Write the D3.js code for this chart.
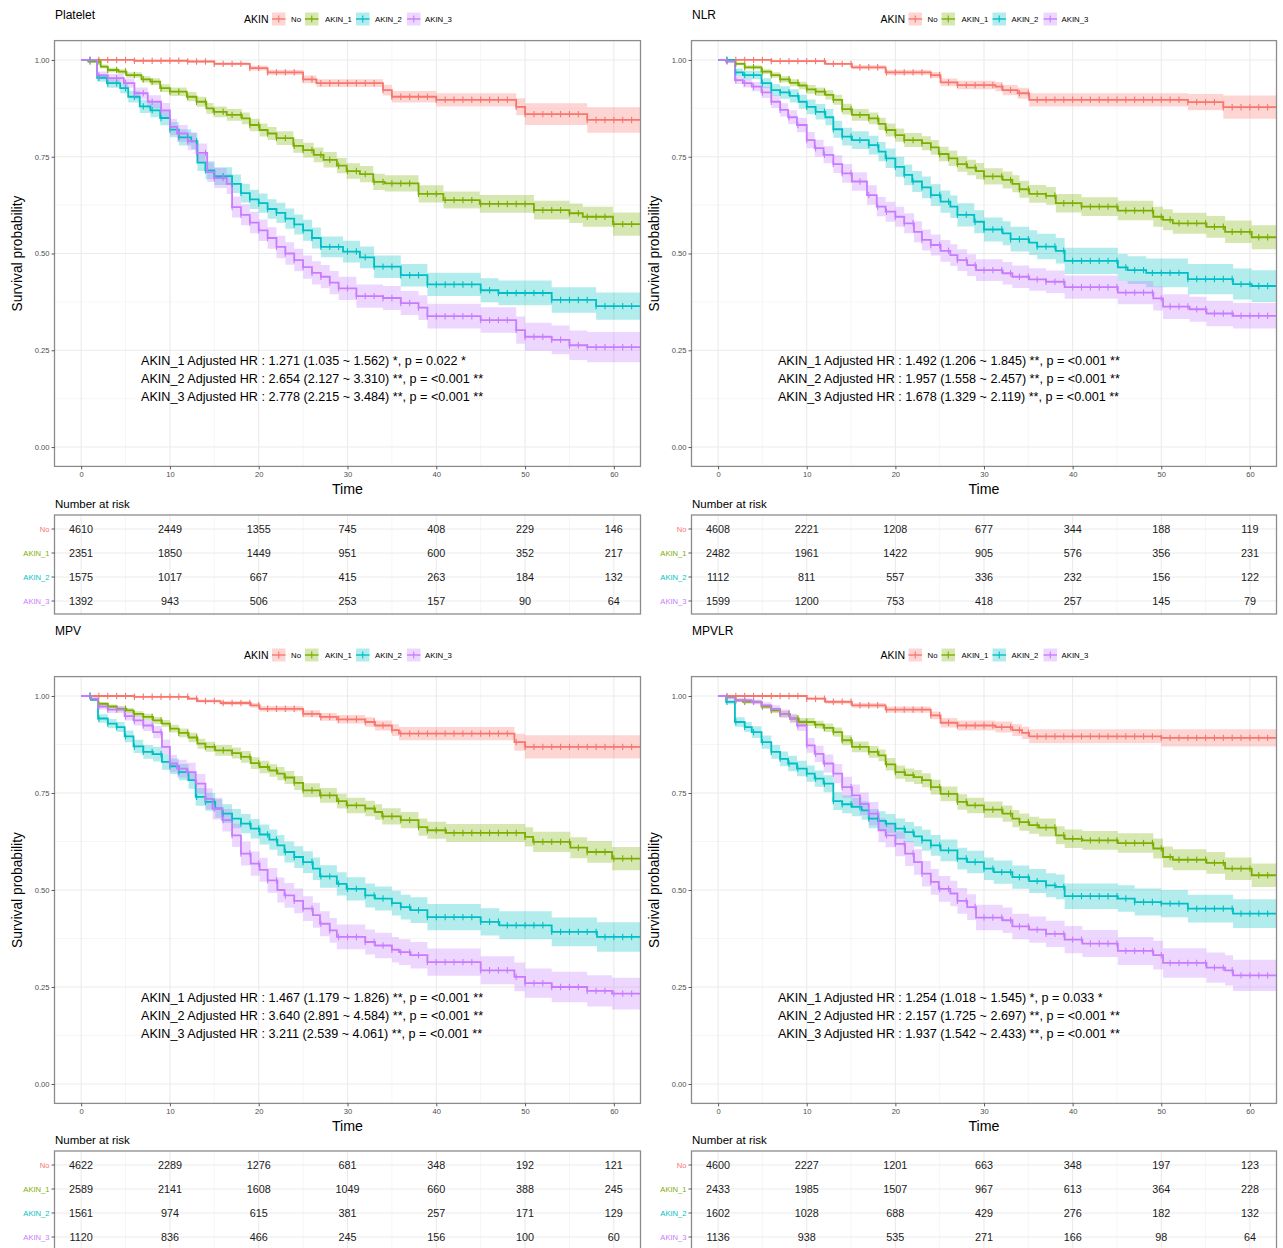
<!DOCTYPE html>
<html><head><meta charset="utf-8">
<script src="https://cdn.jsdelivr.net/npm/d3@7"></script>
<style>body{margin:0;background:#fff;} svg{display:block;font-family:"Liberation Sans",Arial,Helvetica,sans-serif;}</style>
</head><body><svg id="c" width="1283" height="1248"></svg>
<script>
// ---------------- DATA ----------------
const groups = ["No","AKIN_1","AKIN_2","AKIN_3"];
const colors = ["#F8766D","#7CAE00","#00BFC4","#C77CFF"];
const legendTitle = "AKIN";
const timeTicks = [0,10,20,30,40,50,60];
const timeMinor = [5,15,25,35,45,55];
const survTicks = [0,0.25,0.5,0.75,1];
const survTickLabels = ["0.00","0.25","0.50","0.75","1.00"];
const survMinor = [0.125,0.375,0.625,0.875];
const panelTitles = ["Platelet","NLR","MPV","MPVLR"];
const censorTimes = [1,2,3,4,5,6,7,8,9,10,11,12,13,14,15,16,17,18,19,20,21,22,23,24,25,26,27,28,29,30,31,32,33,34,35,36,37,38,39,40,41,42,43,44,45,46,47,48,49,50,51,52,53,54,55,56,57,58,59,60,61,62];

// curves: [time, survival, CI half-width]
const platelet_No = [[0,1,0],[6,.998,.002],[12,.996,.003],[15,.99,.004],[19,.979,.006],[21,.968,.007],[25,.95,.01],[26.5,.94,.01],[34,.922,.014],[35,.905,.015],[40,.897,.017],[49,.879,.022],[50,.86,.028],[57,.845,.033]];
const platelet_A1 = [[0,1,0],[0.8,.996,.003],[2.2,.983,.005],[3,.974,.006],[4.2,.97,.006],[5.1,.961,.007],[6.8,.95,.008],[7.8,.944,.009],[8.9,.927,.01],[10,.918,.011],[11.9,.905,.012],[13,.892,.013],[14.1,.875,.014],[14.9,.866,.014],[16.4,.858,.015],[18.1,.849,.015],[19,.832,.016],[20.1,.819,.017],[21,.81,.017],[22,.798,.018],[23.9,.778,.018],[25,.767,.019],[26.2,.755,.019],[27.3,.742,.02],[28.8,.727,.02],[29.9,.713,.02],[31.4,.705,.021],[32.9,.685,.021],[34.2,.681,.021],[38,.654,.022],[40.8,.638,.022],[44.9,.628,.023],[51,.612,.024],[55,.604,.025],[56.5,.595,.026],[59.9,.576,.03]];
const platelet_A2 = [[0,1,0],[1.8,.954,.01],[2.9,.94,.012],[4.4,.927,.013],[5.3,.905,.015],[6.6,.88,.017],[7.8,.87,.018],[8.9,.85,.019],[10,.82,.02],[11,.8,.021],[12.4,.79,.021],[13.1,.735,.022],[14,.715,.023],[15,.70,.023],[17,.68,.024],[18,.656,.024],[19,.64,.025],[20,.63,.025],[21,.615,.025],[22,.605,.026],[23,.59,.026],[24,.575,.026],[25,.56,.027],[26,.54,.027],[27,.517,.027],[29.5,.505,.028],[31.4,.49,.028],[33,.466,.029],[36,.444,.029],[39,.42,.03],[45,.405,.031],[47,.398,.032],[53,.38,.033],[58,.364,.035]];
const platelet_A3 = [[0,1,0],[1.8,.96,.01],[3,.953,.011],[4.8,.94,.012],[6,.914,.015],[7.5,.892,.017],[9,.87,.019],[10,.827,.021],[10.8,.81,.022],[12,.79,.023],[13,.76,.024],[14.2,.71,.025],[15,.695,.026],[16.4,.68,.026],[17,.62,.027],[18,.6,.027],[19,.58,.028],[20,.56,.028],[21,.54,.028],[22,.517,.029],[23,.5,.029],[24,.483,.029],[25,.465,.03],[26,.45,.03],[27,.44,.03],[28,.425,.03],[29,.41,.03],[31,.39,.03],[34,.385,.031],[36,.372,.031],[38,.36,.032],[39,.338,.032],[45,.328,.033],[49,.302,.035],[50,.285,.036],[53,.277,.037],[55,.263,.038],[57,.258,.039]];

const nlr_No = [[0,1,0],[6,.997,.002],[12.1,.99,.003],[15.1,.981,.005],[18.9,.968,.007],[24,.961,.008],[25.1,.942,.01],[27,.935,.011],[31.3,.931,.012],[32.1,.922,.013],[33.8,.914,.014],[35.1,.897,.017],[53,.891,.021],[57,.878,.03]];
const nlr_A1 = [[0,1,0],[0.9,.998,.002],[1.9,.99,.004],[3,.981,.005],[4.9,.97,.006],[6,.961,.007],[7,.95,.008],[8.1,.941,.009],[9.1,.934,.01],[10,.924,.011],[11,.918,.011],[12.1,.91,.012],[13,.897,.013],[14,.873,.014],[15.1,.858,.015],[17,.849,.015],[18.1,.835,.016],[18.9,.819,.017],[20,.806,.017],[21,.793,.018],[23,.785,.018],[24,.774,.019],[24.9,.757,.019],[26,.746,.02],[27,.731,.02],[28.1,.722,.02],[29.1,.713,.021],[30,.699,.021],[32.1,.69,.022],[33.2,.68,.022],[34,.666,.022],[35.1,.654,.023],[37,.649,.023],[38.1,.63,.024],[41,.621,.024],[45.1,.611,.025],[49.1,.595,.026],[50.2,.587,.027],[51.3,.578,.027],[55.1,.569,.028],[57.2,.556,.029],[60.2,.542,.031]];
const nlr_A2 = [[0,1,0],[1.9,.968,.01],[2.8,.961,.011],[4.9,.94,.013],[6,.922,.015],[7,.916,.016],[8.1,.907,.017],[9.1,.892,.018],[10,.879,.019],[11,.866,.02],[12.1,.852,.021],[13,.821,.022],[14,.802,.023],[15.1,.793,.023],[17,.78,.024],[18.1,.763,.025],[18.9,.746,.025],[20,.724,.026],[21,.703,.027],[21.9,.686,.027],[23,.671,.028],[24,.651,.028],[25.1,.634,.029],[26.2,.621,.029],[27,.6,.03],[28.9,.582,.03],[30,.562,.031],[32.1,.552,.031],[33,.537,.032],[35.1,.528,.032],[36,.518,.033],[38.1,.507,.033],[39.1,.481,.034],[45.1,.464,.035],[46.2,.457,.036],[48.3,.45,.037],[53,.434,.039],[58.1,.421,.04],[60.2,.416,.041]];
const nlr_A3 = [[0,1,0],[0.9,.996,.003],[1.9,.948,.01],[2.8,.94,.011],[3.8,.931,.012],[4.9,.916,.014],[6,.892,.016],[7,.871,.017],[7.9,.852,.018],[8.9,.832,.019],[10,.793,.021],[10.9,.772,.022],[11.9,.755,.022],[13,.731,.023],[14,.707,.024],[15.1,.686,.024],[16.8,.651,.025],[17.9,.621,.025],[18.9,.608,.026],[20,.595,.026],[21,.578,.026],[22.1,.556,.027],[23,.535,.027],[24,.522,.027],[25.1,.507,.028],[26.2,.496,.028],[27,.483,.028],[28.1,.47,.028],[29.1,.457,.028],[32.1,.449,.029],[33.2,.44,.029],[35.1,.433,.029],[37,.427,.029],[39.1,.413,.03],[45.1,.399,.03],[49.1,.384,.031],[50.2,.363,.032],[53.2,.356,.032],[55.1,.345,.033],[58.1,.339,.033]];

const mpv_No = [[0,1,0],[6,.998,.002],[12.1,.993,.003],[13.1,.987,.004],[15.7,.982,.005],[19.1,.976,.006],[20.1,.967,.007],[25,.954,.009],[26.9,.946,.01],[28.8,.94,.011],[32,.933,.012],[33.1,.924,.013],[35,.912,.015],[35.8,.903,.017],[48.8,.881,.022],[50,.869,.03]];
const mpv_A1 = [[0,1,0],[1.1,.991,.003],[1.9,.98,.004],[3,.973,.005],[4,.967,.006],[5.1,.963,.006],[5.9,.954,.007],[7,.946,.008],[8.1,.937,.009],[9.1,.929,.009],[10,.916,.01],[11,.905,.011],[12.1,.893,.012],[13.1,.877,.013],[14,.869,.013],[15.1,.86,.014],[17,.853,.014],[18,.843,.015],[19.1,.827,.015],[20.1,.817,.016],[21.2,.808,.016],[22.1,.8,.017],[22.9,.79,.017],[24,.776,.018],[25,.757,.018],[26.9,.744,.019],[28.8,.729,.019],[29.9,.718,.02],[32,.71,.02],[33.1,.701,.02],[33.9,.69,.021],[36,.68,.021],[38,.662,.022],[39,.654,.022],[41.1,.647,.023],[50,.637,.025],[50.9,.624,.026],[55.1,.609,.027],[57,.598,.028],[59.8,.581,.03]];
const mpv_A2 = [[0,1,0],[1.1,.991,.004],[1.9,.942,.011],[3,.929,.012],[4,.92,.013],[4.9,.896,.015],[5.9,.87,.017],[7,.856,.018],[8.1,.85,.019],[9.1,.83,.02],[10,.819,.02],[11,.804,.021],[12.1,.783,.022],[12.9,.74,.023],[14,.727,.023],[15.1,.71,.024],[15.9,.697,.024],[17,.684,.025],[18,.671,.025],[19.1,.658,.025],[20.1,.643,.026],[21.2,.63,.026],[22.1,.615,.027],[22.9,.598,.027],[24,.585,.028],[25,.572,.028],[26.1,.555,.029],[26.9,.535,.029],[28.8,.516,.03],[29.9,.503,.03],[32,.486,.031],[33.1,.478,.031],[35,.466,.032],[36,.456,.032],[37.1,.448,.033],[39,.43,.034],[45,.418,.035],[47.1,.409,.036],[53,.392,.037],[58.1,.379,.038]];
const mpv_A3 = [[0,1,0],[1.1,.993,.004],[1.9,.973,.008],[3,.965,.009],[4.9,.948,.011],[5.9,.937,.013],[7,.924,.014],[8.1,.907,.016],[9.1,.869,.019],[10,.826,.022],[10.8,.813,.023],[11.9,.804,.024],[12.9,.774,.025],[14,.735,.027],[14.8,.71,.028],[15.9,.68,.029],[17,.641,.03],[18,.594,.031],[19.1,.568,.031],[20.1,.552,.031],[21,.525,.032],[22.1,.5,.032],[22.9,.486,.032],[24,.472,.032],[25,.452,.032],[26.1,.435,.032],[26.9,.413,.032],[28,.396,.032],[28.8,.379,.032],[32,.366,.032],[33.1,.357,.033],[35,.346,.033],[35.8,.34,.033],[37.1,.332,.034],[39,.314,.035],[45,.293,.036],[48.8,.276,.037],[50,.26,.038],[53,.25,.039],[57,.24,.04],[59.8,.233,.041]];

const mpvlr_No = [[0,1,0],[10,.993,.003],[12.1,.985,.005],[15.1,.976,.006],[18.9,.965,.008],[24,.95,.01],[25.1,.931,.012],[27,.924,.013],[31.3,.92,.014],[33.2,.912,.015],[34.3,.905,.016],[35.1,.896,.018],[50,.892,.022]];
const mpvlr_A1 = [[0,1,0],[0.9,.997,.002],[1.9,.989,.004],[2.8,.985,.005],[4.9,.973,.006],[6,.963,.007],[7,.954,.008],[8.1,.942,.009],[9.1,.933,.01],[10.9,.926,.01],[11.9,.918,.011],[13,.907,.012],[14,.886,.013],[15.1,.869,.014],[17,.856,.015],[18.1,.847,.015],[18.9,.824,.016],[20,.804,.017],[21.1,.796,.017],[22.1,.791,.018],[23,.783,.018],[24,.765,.019],[25.1,.748,.019],[27,.727,.02],[28.1,.718,.02],[30,.707,.021],[32.1,.697,.021],[33.2,.684,.022],[34,.675,.022],[35.1,.667,.022],[36.2,.661,.023],[38.1,.641,.023],[39.1,.632,.024],[41.1,.628,.024],[45.1,.621,.025],[49.1,.607,.026],[50.2,.585,.027],[51.3,.578,.027],[55.1,.57,.028],[57.2,.555,.029],[60.2,.538,.03]];
const mpvlr_A2 = [[0,1,0],[0.9,.985,.006],[1.9,.933,.012],[3,.92,.013],[3.8,.907,.015],[4.9,.881,.017],[6,.856,.018],[7,.838,.019],[7.9,.826,.02],[8.9,.813,.02],[10,.8,.021],[10.9,.787,.021],[11.9,.774,.022],[13,.729,.023],[14,.721,.023],[15.1,.714,.024],[16.2,.705,.024],[17,.684,.025],[18.1,.678,.025],[18.9,.671,.025],[20,.658,.026],[21.1,.649,.026],[22.1,.638,.026],[23,.628,.027],[24,.615,.027],[25.1,.602,.028],[27,.581,.028],[28.1,.572,.029],[30,.555,.029],[31.1,.546,.03],[33.2,.533,.03],[35.1,.523,.031],[37,.512,.031],[38.1,.508,.032],[39.1,.484,.033],[45.1,.478,.034],[47,.469,.035],[50,.465,.035],[53,.452,.036],[58.1,.439,.037]];
const mpvlr_A3 = [[0,1,0],[0.9,.996,.003],[1.9,.989,.005],[3.8,.985,.006],[4.9,.976,.008],[6,.967,.009],[7,.954,.011],[8.1,.942,.012],[8.9,.924,.014],[10,.873,.019],[10.9,.851,.021],[11.9,.826,.023],[13,.8,.025],[14,.765,.027],[15.1,.744,.028],[16,.722,.029],[17,.697,.03],[18.1,.654,.031],[18.9,.641,.031],[20,.619,.032],[21.1,.594,.032],[22.1,.572,.033],[23,.542,.033],[24,.521,.033],[24.9,.503,.033],[26.2,.491,.033],[27,.472,.033],[28.1,.456,.033],[29.1,.429,.033],[32.1,.422,.033],[33.2,.406,.033],[35.1,.398,.034],[37,.387,.034],[39.1,.372,.035],[41.1,.362,.035],[45.1,.343,.036],[49.1,.332,.037],[50.2,.312,.038],[55.1,.3,.039],[57.2,.293,.039],[58.1,.28,.04]];

const riskPlatelet = [[4610,2449,1355,745,408,229,146],[2351,1850,1449,951,600,352,217],[1575,1017,667,415,263,184,132],[1392,943,506,253,157,90,64]];
const riskNLR = [[4608,2221,1208,677,344,188,119],[2482,1961,1422,905,576,356,231],[1112,811,557,336,232,156,122],[1599,1200,753,418,257,145,79]];
const riskMPV = [[4622,2289,1276,681,348,192,121],[2589,2141,1608,1049,660,388,245],[1561,974,615,381,257,171,129],[1120,836,466,245,156,100,60]];
const riskMPVLR = [[4600,2227,1201,663,348,197,123],[2433,1985,1507,967,613,364,228],[1602,1028,688,429,276,182,132],[1136,938,535,271,166,98,64]];

const hrPlatelet = ["AKIN_1 Adjusted HR : 1.271 (1.035 ~ 1.562) *, p = 0.022 *","AKIN_2 Adjusted HR : 2.654 (2.127 ~ 3.310) **, p = <0.001 **","AKIN_3 Adjusted HR : 2.778 (2.215 ~ 3.484) **, p = <0.001 **"];
const hrNLR = ["AKIN_1 Adjusted HR : 1.492 (1.206 ~ 1.845) **, p = <0.001 **","AKIN_2 Adjusted HR : 1.957 (1.558 ~ 2.457) **, p = <0.001 **","AKIN_3 Adjusted HR : 1.678 (1.329 ~ 2.119) **, p = <0.001 **"];
const hrMPV = ["AKIN_1 Adjusted HR : 1.467 (1.179 ~ 1.826) **, p = <0.001 **","AKIN_2 Adjusted HR : 3.640 (2.891 ~ 4.584) **, p = <0.001 **","AKIN_3 Adjusted HR : 3.211 (2.539 ~ 4.061) **, p = <0.001 **"];
const hrMPVLR = ["AKIN_1 Adjusted HR : 1.254 (1.018 ~ 1.545) *, p = 0.033 *","AKIN_2 Adjusted HR : 2.157 (1.725 ~ 2.697) **, p = <0.001 **","AKIN_3 Adjusted HR : 1.937 (1.542 ~ 2.433) **, p = <0.001 **"];

// ---------------- DRAW ----------------
const svg = d3.select("#c");
const panels = [
  {title:panelTitles[0], curves:[platelet_No,platelet_A1,platelet_A2,platelet_A3], risk:riskPlatelet, hr:hrPlatelet, col:0, row:0},
  {title:panelTitles[1], curves:[nlr_No,nlr_A1,nlr_A2,nlr_A3], risk:riskNLR, hr:hrNLR, col:1, row:0},
  {title:panelTitles[2], curves:[mpv_No,mpv_A1,mpv_A2,mpv_A3], risk:riskMPV, hr:hrMPV, col:0, row:1},
  {title:panelTitles[3], curves:[mpvlr_No,mpvlr_A1,mpvlr_A2,mpvlr_A3], risk:riskMPVLR, hr:hrMPVLR, col:1, row:1}
];
const colX = [[54.5,640.5],[691.5,1276.5]];
const rowY = [[40.6,466.4],[676.6,1103.4]];
const titleY = [15, 631];
const legendY = [19, 655];
const tableOff = [48.6, 47.6];
const tMax = 63;
const gridMajor = "#EBEBEB", gridMinor = "#F4F4F4", borderCol = "#8c8c8c", tickCol = "#4D4D4D";

function stepAt(curve, t){ let s = curve[0][1]; for(const p of curve){ if(p[0] <= t) s = p[1]; else break; } return s; }

panels.forEach((p, pi) => {
  const [xa, xb] = colX[p.col], [ya, yb] = rowY[p.row];
  const x = d3.scaleLinear().domain([-3, 63]).range([xa, xb]);
  const y = d3.scaleLinear().domain([-0.05, 1.05]).range([yb, ya]);
  const g = svg.append("g");
  const cx = (xa + xb) / 2;

  // title
  g.append("text").attr("x", xa + 0.5).attr("y", titleY[p.row]).attr("dominant-baseline","central")
    .attr("font-size", 12).attr("fill","#000").text(p.title);

  // legend
  const ly = legendY[p.row];
  g.append("text").attr("x", cx - 103.5).attr("y", ly).attr("dominant-baseline","central")
    .attr("font-size", 10.5).text(legendTitle);
  const keyOff = [-75.5, -42.5, 8.5, 59.5], labOff = [-56.5, -22.5, 27.5, 77.5];
  groups.forEach((gn, k) => {
    const kx = cx + keyOff[k];
    g.append("rect").attr("x", kx).attr("y", ly - 6.5).attr("width", 13.5).attr("height", 13)
      .attr("fill", colors[k]).attr("fill-opacity", 0.3);
    g.append("line").attr("x1", kx).attr("x2", kx + 13.5).attr("y1", ly).attr("y2", ly)
      .attr("stroke", colors[k]).attr("stroke-width", 1.4);
    g.append("line").attr("x1", kx + 6.75).attr("x2", kx + 6.75).attr("y1", ly - 3.5).attr("y2", ly + 3.5)
      .attr("stroke", colors[k]).attr("stroke-width", 1.1);
    g.append("text").attr("x", cx + labOff[k]).attr("y", ly).attr("dominant-baseline","central")
      .attr("font-size", 7.8).text(gn);
  });

  // panel background + grid
  g.append("rect").attr("x", xa).attr("y", ya).attr("width", xb - xa).attr("height", yb - ya).attr("fill","#fff");
  timeMinor.forEach(t => g.append("line").attr("x1", x(t)).attr("x2", x(t)).attr("y1", ya).attr("y2", yb).attr("stroke", gridMinor).attr("stroke-width", 0.8));
  survMinor.forEach(s => g.append("line").attr("x1", xa).attr("x2", xb).attr("y1", y(s)).attr("y2", y(s)).attr("stroke", gridMinor).attr("stroke-width", 0.8));
  timeTicks.forEach(t => g.append("line").attr("x1", x(t)).attr("x2", x(t)).attr("y1", ya).attr("y2", yb).attr("stroke", gridMajor).attr("stroke-width", 1.1));
  survTicks.forEach(s => g.append("line").attr("x1", xa).attr("x2", xb).attr("y1", y(s)).attr("y2", y(s)).attr("stroke", gridMajor).attr("stroke-width", 1.1));

  // clip
  const clipId = "clip" + pi;
  svg.append("clipPath").attr("id", clipId).append("rect").attr("x", xa).attr("y", ya).attr("width", xb - xa).attr("height", yb - ya);
  const plotG = g.append("g").attr("clip-path", `url(#${clipId})`);

  const ext = p.curves.map(c => c.concat([[tMax, c[c.length-1][1], c[c.length-1][2]]]));
  const area = d3.area().curve(d3.curveStepAfter).x(d => x(d[0]))
    .y0(d => y(Math.max(0, d[1] - d[2]))).y1(d => y(Math.min(1, d[1] + d[2])));
  const line = d3.line().curve(d3.curveStepAfter).x(d => x(d[0])).y(d => y(d[1]));
  ext.forEach((c, k) => plotG.append("path").attr("d", area(c)).attr("fill", colors[k]).attr("fill-opacity", 0.3));
  ext.forEach((c, k) => plotG.append("path").attr("d", line(c)).attr("fill","none").attr("stroke", colors[k]).attr("stroke-width", 1.8));
  p.curves.forEach((c, k) => {
    censorTimes.forEach(t => {
      const s = stepAt(c, t);
      plotG.append("line").attr("x1", x(t)).attr("x2", x(t)).attr("y1", y(s) - 3.2).attr("y2", y(s) + 3.2)
        .attr("stroke", colors[k]).attr("stroke-width", 1.1);
    });
  });

  // HR text
  p.hr.forEach((txt, i) => {
    g.append("text").attr("x", x(6.75)).attr("y", y(0.222) + 18 * i).attr("dominant-baseline","central")
      .attr("font-size", 12.6).attr("fill","#000").text(txt);
  });

  // border
  g.append("rect").attr("x", xa).attr("y", ya).attr("width", xb - xa).attr("height", yb - ya)
    .attr("fill","none").attr("stroke", borderCol).attr("stroke-width", 1.3);

  // axes
  const ax = g.append("g").attr("transform", `translate(0,${yb})`)
    .call(d3.axisBottom(x).tickValues(timeTicks).tickSize(3).tickPadding(2));
  const ay = g.append("g").attr("transform", `translate(${xa},0)`)
    .call(d3.axisLeft(y).tickValues(survTicks).tickFormat((d, i) => survTickLabels[i]).tickSize(3).tickPadding(2));
  [ax, ay].forEach(a => {
    a.select(".domain").remove();
    a.selectAll(".tick line").attr("stroke", "#333").attr("stroke-width", 0.8);
    a.selectAll(".tick text").attr("fill", tickCol).attr("font-size", 7.6).attr("font-family", null);
  });

  // axis titles
  g.append("text").attr("transform", `translate(${xa - 37},${(ya + yb) / 2}) rotate(-90)`)
    .attr("text-anchor","middle").attr("dominant-baseline","central").attr("font-size", 13.8).text("Survival probability");
  g.append("text").attr("x", cx).attr("y", yb + 23).attr("text-anchor","middle").attr("dominant-baseline","central")
    .attr("font-size", 14.2).text("Time");

  // risk table
  const tTop = yb + tableOff[p.row], tBot = tTop + 99;
  g.append("text").attr("x", xa + 0.5).attr("y", tTop - 11).attr("dominant-baseline","central")
    .attr("font-size", 11.5).text("Number at risk");
  const ry = d3.scalePoint().domain(groups).range([tTop + 14, tTop + 86]);
  g.append("rect").attr("x", xa).attr("y", tTop).attr("width", xb - xa).attr("height", tBot - tTop).attr("fill","#fff");
  timeMinor.forEach(t => g.append("line").attr("x1", x(t)).attr("x2", x(t)).attr("y1", tTop).attr("y2", tBot).attr("stroke", gridMinor).attr("stroke-width", 0.8));
  timeTicks.forEach(t => g.append("line").attr("x1", x(t)).attr("x2", x(t)).attr("y1", tTop).attr("y2", tBot).attr("stroke", gridMajor).attr("stroke-width", 1.1));
  groups.forEach(gn => g.append("line").attr("x1", xa).attr("x2", xb).attr("y1", ry(gn)).attr("y2", ry(gn)).attr("stroke", gridMajor).attr("stroke-width", 1.1));
  g.append("rect").attr("x", xa).attr("y", tTop).attr("width", xb - xa).attr("height", tBot - tTop)
    .attr("fill","none").attr("stroke", borderCol).attr("stroke-width", 1.3);
  groups.forEach((gn, k) => {
    g.append("line").attr("x1", xa - 3).attr("x2", xa).attr("y1", ry(gn)).attr("y2", ry(gn)).attr("stroke","#333").attr("stroke-width",0.8);
    g.append("text").attr("x", xa - 5).attr("y", ry(gn)).attr("text-anchor","end").attr("dominant-baseline","central")
      .attr("font-size", 7.6).attr("fill", colors[k]).text(gn);
    p.risk[k].forEach((v, j) => {
      g.append("text").attr("x", x(timeTicks[j])).attr("y", ry(gn)).attr("text-anchor","middle").attr("dominant-baseline","central")
        .attr("font-size", 10.8).attr("fill","#1a1a1a").text(v);
    });
  });
});
</script></body></html>
